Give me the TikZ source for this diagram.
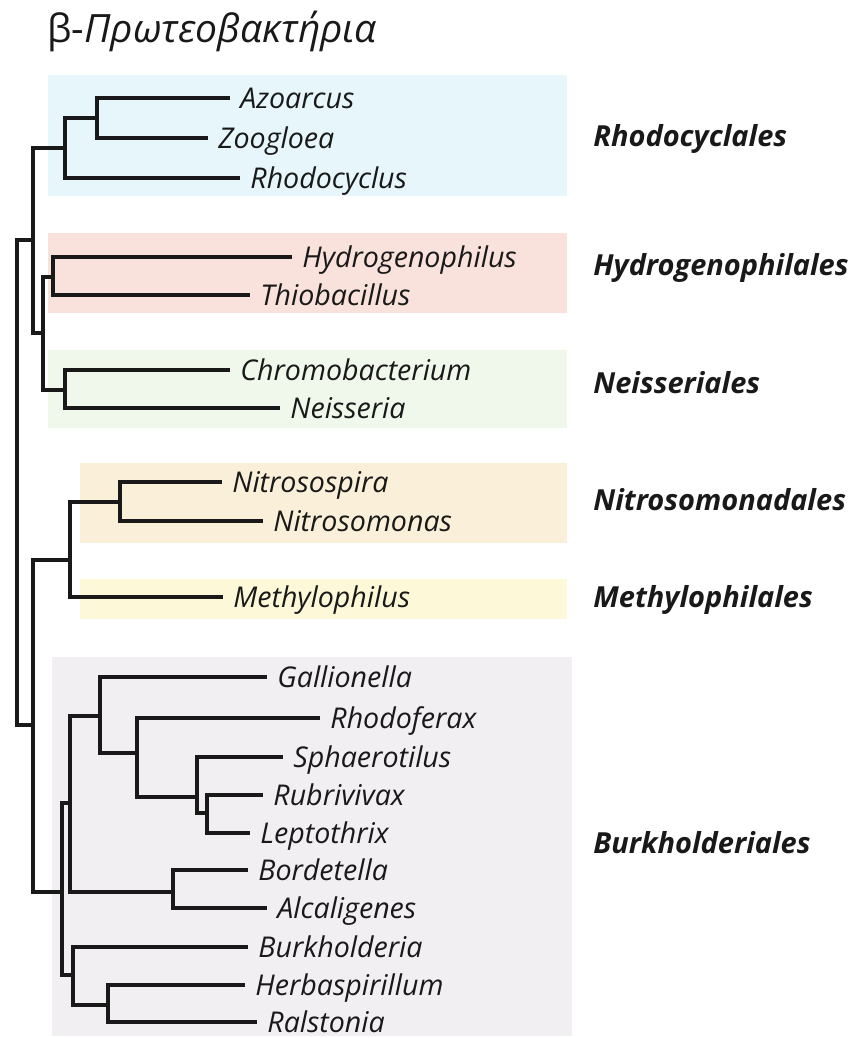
\documentclass[tikz,border=0pt]{standalone}
\usepackage{fontspec}
\setmainfont{Open Sans}
\definecolor{rhodoband}{HTML}{E6F6FB}
\definecolor{hydroband}{HTML}{F8E2DB}
\definecolor{neissband}{HTML}{EFF8EA}
\definecolor{nitroband}{HTML}{FAF0D9}
\definecolor{methyband}{HTML}{FDF9D8}
\definecolor{burkhband}{HTML}{F2EFF2}
\begin{document}
\begin{tikzpicture}[x=0.5pt,y=-0.5pt,
  branch/.style={line width=1.6pt,black!90},
  taxon/.style={anchor=west,inner xsep=5pt,inner ysep=0pt,text height=10.2pt,text depth=0pt,
    text=black!90,font=\fontsize{14.3}{16}\selectfont\itshape},
  order/.style={anchor=west,inner sep=0pt,text height=10.3pt,text depth=0pt,
    text=black!90,font=\fontsize{14.5}{16}\selectfont\bfseries\itshape}]
  \useasboundingbox (0,0) rectangle (858,1038);
  % coloured bands
  \fill[rhodoband] (48,75) rectangle (567,196);
  \fill[hydroband] (48,233) rectangle (567,313);
  \fill[neissband] (48,350) rectangle (567,428);
  \fill[nitroband] (80,463) rectangle (567,543);
  \fill[methyband] (80,579) rectangle (567,619);
  \fill[burkhband] (52,657) rectangle (572,1036);
  \node[anchor=base west,inner sep=0pt,text=black!90,font=\fontsize{19.5}{22}\selectfont]
    (title) at (47,43) {β-\textit{Πρωτεοβακτήρια}};
  % leaves
  \foreach \nm/\xx/\yy/\txt in {azo/230/98/Azoarcus, zoo/208/138/Zoogloea,
      rhc/240/178/Rhodocyclus, hyd/292/257/Hydrogenophilus, thi/250/295/Thiobacillus,
      chr/230/370/Chromobacterium, nei/280/408/Neisseria, nsp/222/482/Nitrosospira,
      nsm/263/521/Nitrosomonas, met/223/597/Methylophilus, gal/267/677/Gallionella,
      rfx/320/718/Rhodoferax, sph/283/757/Sphaerotilus, rub/263/795/Rubrivivax,
      lep/250/833/Leptothrix, bor/248/870/Bordetella, alc/267/908/Alcaligenes,
      bur/248/947/Burkholderia, her/245/985/Herbaspirillum, ral/257/1022/Ralstonia}
    \node[taxon] (\nm) at (\xx,\yy) {\txt};
  % inner nodes
  \coordinate (root) at (17,482);
  \coordinate (up) at (33,240);
  \coordinate (rc) at (65,148);
  \coordinate (az) at (97,118);
  \coordinate (hn) at (43,333);
  \coordinate (hy) at (53,277);
  \coordinate (ne) at (65,390);
  \coordinate (lo) at (33,725);
  \coordinate (nm) at (70,560);
  \coordinate (ni) at (120,502);
  \coordinate (bu) at (62,892);
  \coordinate (b1) at (70,803);
  \coordinate (b2) at (100,716);
  \coordinate (b3) at (137,753);
  \coordinate (b4) at (197,797);
  \coordinate (b5) at (207,813);
  \coordinate (b6) at (173,892);
  \coordinate (b7) at (73,975);
  \coordinate (b8) at (108,1005);
  \foreach \p/\c in {root/up, root/lo, up/rc, up/hn, rc/az, rc/rhc, az/azo, az/zoo,
      hn/hy, hn/ne, hy/hyd, hy/thi, ne/chr, ne/nei, lo/nm, lo/bu, nm/ni, nm/met,
      ni/nsp, ni/nsm, bu/b1, bu/b7, b1/b2, b1/b6, b2/gal, b2/b3, b3/rfx, b3/b4,
      b4/sph, b4/b5, b5/rub, b5/lep, b6/bor, b6/alc, b7/bur, b7/b8, b8/her, b8/ral}
    \draw[branch] (\p) |- (\c);
  % orders
  \node[order] (rhodocyclales) at (593,136) {Rhodocyclales};
  \node[order] (hydrogenophilales) at (593,265) {Hydrogenophilales};
  \node[order] (neisseriales) at (593,383) {Neisseriales};
  \node[order] (nitrosomonadales) at (593,500) {Nitrosomonadales};
  \node[order] (methylophilales) at (593,597) {Methylophilales};
  \node[order] (burkholderiales) at (593,843) {Burkholderiales};
\end{tikzpicture}
\end{document}
